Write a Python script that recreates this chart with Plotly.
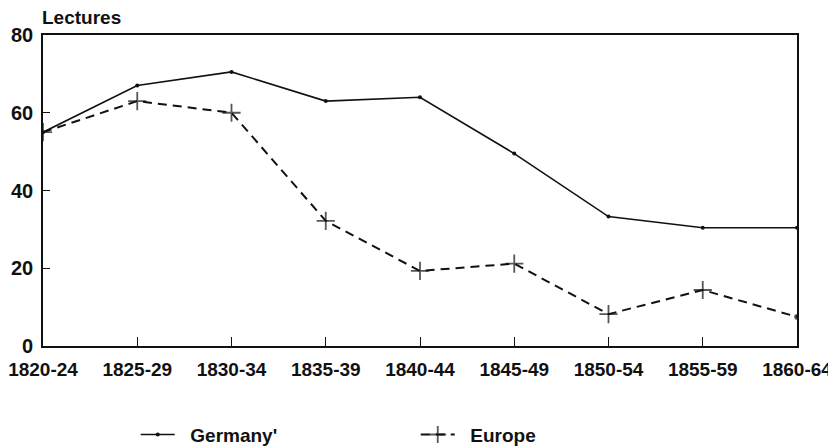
import plotly.graph_objects as go

periods = ["1820-24", "1825-29", "1830-34", "1835-39", "1840-44",
           "1845-49", "1850-54", "1855-59", "1860-64"]
germany = [55, 67, 70.5, 63, 64, 49.5, 33.3, 30.4, 30.4]
europe = [55, 63, 60, 32.2, 19.3, 21.2, 8.2, 14.4, 7.5]
y_ticks = [0, 20, 40, 60, 80]

FONT = "Liberation Sans, Arial, sans-serif"
INK = "#111111"

fig = go.Figure()
fig.add_trace(go.Scatter(
    x=periods, y=germany, name="\u00a0\u00a0<b>Germany'</b>", mode="lines+markers",
    line=dict(color=INK, width=1.6),
    marker=dict(symbol="circle", size=4, color=INK),
))
fig.add_trace(go.Scatter(
    x=periods, y=europe, name="\u00a0\u00a0<b>Europe</b>", mode="lines+markers",
    line=dict(color=INK, width=2, dash="9px,6px"),
    marker=dict(symbol=["cross-thin"] * 8 + ["circle"], size=[13] * 8 + [4],
                color=INK, line=dict(color=INK, width=1.8)),
))

# the page places the figure 8px in from the top-left corner of the window
fig.update_layout(
    width=828, height=438,
    margin=dict(l=35, r=39, t=27, b=100, autoexpand=False),
    paper_bgcolor="white", plot_bgcolor="white",
    font=dict(family=FONT, size=19, color=INK),
    showlegend=True,
    legend=dict(orientation="h", x=0.123, xanchor="left", y=-0.285, yanchor="middle",
                entrywidth=231, entrywidthmode="pixels", itemwidth=34,
                font=dict(family=FONT, size=19, color=INK),
                bgcolor="rgba(0,0,0,0)"),
    annotations=[dict(text="<b>Lectures</b>", x=0, xref="paper", xanchor="left",
                      xshift=-3, y=1, yref="paper", yanchor="bottom", yshift=5,
                      showarrow=False, font=dict(family=FONT, size=19, color=INK))],
)
fig.update_xaxes(
    type="category", range=[0, 8], showgrid=False, zeroline=False, automargin=False,
    showline=True, linecolor=INK, linewidth=2, mirror=True,
    ticks="inside", ticklen=9, tickwidth=1.2, tickcolor=INK,
    ticklabelstandoff=5,
    tickfont=dict(family=FONT, size=19, color=INK, weight="bold"),
)
fig.update_yaxes(
    range=[0, 80], tickvals=y_ticks, showgrid=False, zeroline=False, automargin=False,
    showline=True, linecolor=INK, linewidth=1.6, mirror=True,
    ticks="inside", ticklen=7, tickwidth=1.2, tickcolor=INK,
    ticklabelstandoff=4,
    tickfont=dict(family=FONT, size=20, color=INK, weight="bold"),
)

fig.write_html("out.html")
